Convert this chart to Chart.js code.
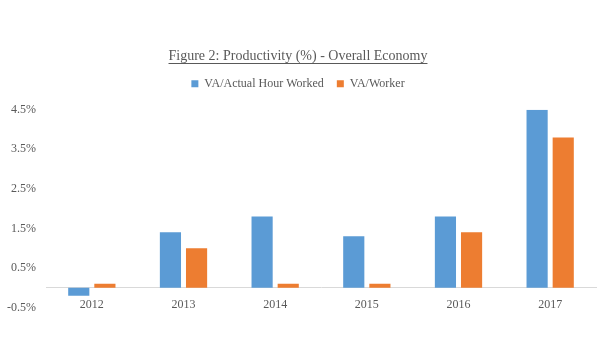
<!DOCTYPE html>
<html>
<head>
<meta charset="utf-8">
<script src="https://cdn.jsdelivr.net/npm/chart.js@4"></script>
<style>
  html, body { margin: 0; padding: 0; background: #fff; }
</style>
</head>
<body>
<canvas id="myChart" width="600" height="360"></canvas>
<script>
const years = ['2012', '2013', '2014', '2015', '2016', '2017'];
const perHour = [-0.2, 1.4, 1.8, 1.3, 1.8, 4.5];
const perWorker = [0.1, 1.0, 0.1, 0.1, 1.4, 3.8];
const yTicks = [-0.5, 0.5, 1.5, 2.5, 3.5, 4.5];

const serif = "'Liberation Serif', 'Times New Roman', serif";
const titleSize = 14;

// underline under the title text
const underline = {
    id: 'underline',
    afterDraw(chart) {
        const tb = chart.titleBlock;
        const ctx = chart.ctx;
        const text = chart.options.plugins.title.text;
        ctx.save();
        ctx.font = titleSize + 'px ' + serif;
        const w = ctx.measureText(text).width;
        const cx = tb.left + tb.width / 2;
        const y = Math.round(tb.top + titleSize * 1.2 / 2 + titleSize * 0.45) + 0.5;
        ctx.strokeStyle = '#595959';
        ctx.lineWidth = 1;
        ctx.beginPath();
        ctx.moveTo(cx - w / 2, y);
        ctx.lineTo(cx + w / 2, y);
        ctx.stroke();
        ctx.restore();
    }
};

const data = {
    labels: years,
    datasets: [{
        label: 'VA/Actual Hour Worked',
        backgroundColor: '#5B9BD5',
        data: perHour,
    }, {
        label: 'VA/Worker',
        backgroundColor: '#ED7D31',
        data: perWorker,
    }]
};

const config = {
    type: 'bar',
    data: data,
    plugins: [underline],
    options: {
        responsive: false,
        animation: false,
        layout: { padding: { left: 0, right: 4, top: 48, bottom: 52.5 } },
        datasets: {
            bar: { categoryPercentage: 0.57, barPercentage: 0.81 }
        },
        plugins: {
            title: {
                display: true,
                text: 'Figure 2: Productivity (%) - Overall Economy',
                color: '#595959',
                font: { family: serif, size: titleSize, weight: 'normal' },
                padding: { top: 0, bottom: 0 }
            },
            legend: {
                labels: {
                    color: '#595959',
                    font: { family: serif, size: 12 },
                    boxWidth: 7,
                    boxHeight: 7,
                    padding: 13
                }
            },
            tooltip: { enabled: false }
        },
        scales: {
            x: {
                position: { y: 0 },
                grid: { display: false },
                border: { display: true, color: '#D9D9D9' },
                ticks: { color: '#595959', font: { family: serif, size: 12 }, padding: 2 }
            },
            // empty axis, only keeps a gap under the legend
            gap: {
                type: 'category',
                position: 'top',
                grid: { display: false },
                border: { display: false },
                ticks: { display: false },
                afterFit: axis => { axis.height = 10; }
            },
            y: {
                min: -0.5,
                max: 4.5,
                grid: { display: false, drawTicks: false },
                border: { display: false },
                afterBuildTicks: axis => { axis.ticks = yTicks.map(v => ({ value: v })); },
                afterFit: axis => { axis.width = 46; },
                ticks: {
                    color: '#595959',
                    font: { family: serif, size: 12 },
                    padding: 10,
                    callback: v => v.toFixed(1) + '%'
                }
            }
        }
    }
};

// eslint-disable-next-line
const myChart = new Chart(
    document.getElementById('myChart'),
    config
);
</script>
</body>
</html>
